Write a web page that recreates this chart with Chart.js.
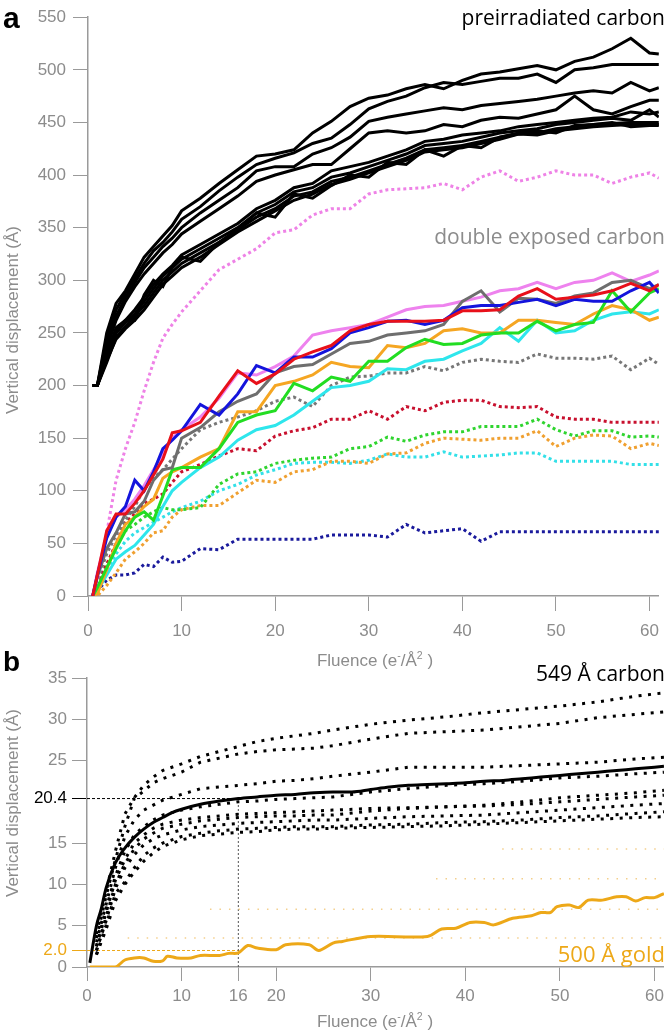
<!DOCTYPE html>
<html>
<head>
<meta charset="utf-8">
<script src="https://cdn.jsdelivr.net/npm/chart.js@4.4.1/dist/chart.umd.min.js"></script>
<style>
  body { margin: 0; background: #fff; }
  #wrap { position: relative; width: 669px; height: 1032px; overflow: hidden; }
  canvas { position: absolute; left: 0; }
  .lbl { position: absolute; white-space: nowrap; line-height: 1; }
  .panel { font-family: "Liberation Sans", Arial, sans-serif; font-weight: bold; color: #000; }
  .note { font-family: "Open Sans", sans-serif; font-size: 21px; right: 4px; }
  .axt { font-family: "Liberation Sans", Arial, sans-serif; font-size: 17px; color: #8c8c8c;
         transform: translate(-50%, -50%); }
  .axt sup { font-size: 0.62em; line-height: 0; }
  .yt { transform: translate(-50%, -50%) rotate(-90deg); }
</style>
</head>
<body>
<div id="wrap">
  <canvas id="chartA" width="669" height="640" style="top:0"></canvas>
  <canvas id="chartB" width="669" height="392" style="top:640px"></canvas>

  <div class="lbl panel" style="left:3px; top:3px; font-size:30px;">a</div>
  <div class="lbl panel" style="left:3px; top:648px; font-size:28px;">b</div>

  <div class="lbl note" style="top:7px; color:#000;">preirradiated carbon</div>
  <div class="lbl note" style="top:226px; color:#8c8c8c;">double exposed carbon</div>
  <div class="lbl note" style="top:663px; color:#000;">549 Å carbon</div>
  <div class="lbl note" style="top:942px; font-size:22px; color:#eda818;">500 Å gold</div>

  <div class="lbl axt yt" style="left:12px; top:320px;">Vertical displacement (Å)</div>
  <div class="lbl axt" style="left:375px; top:660px;">Fluence (e<sup>-</sup>/Å<sup>2</sup> )</div>
  <div class="lbl axt yt" style="left:12px; top:803px;">Vertical displacement (Å)</div>
  <div class="lbl axt" style="left:375px; top:1021px;">Fluence (e<sup>-</sup>/Å<sup>2</sup> )</div>
</div>

<script>
/* ------------------ PANEL A DATA ------------------ */
const fluenceA = [0.5, 1, 2, 3, 4, 5, 6, 7, 8, 9, 10, 12, 14, 16, 18, 20, 22, 24, 26, 28,
                  30, 32, 34, 36, 38, 40, 42, 44, 46, 48, 50, 52, 54, 56, 58, 60, 61];
const xTicksA = [0, 10, 20, 30, 40, 50, 60];
const yTicksA = [0, 50, 100, 150, 200, 250, 300, 350, 400, 450, 500, 550];

// preirradiated carbon, one array per run
const pre1 = [200,200,250,278,290,306,322,332,342,352,366,378,392,405,418,420,424,440,451,465,473,476,482,486,482,490,496,498,501,504,500,508,512,520,530,516,515];
const pre2 = [200,200,245,272,288,302,316,328,336,346,358,370,385,398,410,416,421,430,435,448,463,470,475,483,488,486,489,492,492,496,488,500,502,505,505,505,505];
const pre3 = [200,200,240,266,284,298,312,322,332,340,350,364,376,388,404,408,408,420,426,436,451,455,458,461,464,462,466,468,470,472,475,478,480,478,488,480,483];
const pre4 = [200,200,236,262,280,294,306,316,326,334,344,356,368,380,394,400,405,410,410,425,440,442,440,442,448,446,452,455,454,458,462,475,462,458,465,471,471];
const pre5 = [200,200,228,252,262,272,284,296,306,314,324,334,344,354,368,376,388,392,404,408,412,418,424,432,434,438,440,442,446,448,450,452,454,455,460,458,460];
const pre6 = [200,200,226,250,260,268,280,292,304,312,320,330,340,350,364,372,384,388,398,402,408,414,420,428,430,432,436,440,442,444,448,450,452,454,452,462,455];
const pre7 = [200,200,222,246,256,266,276,288,300,308,316,326,336,348,360,368,380,384,394,398,404,410,416,424,426,428,432,436,439,440,444,446,448,449,450,450,450];
const pre8 = [200,200,224,244,254,262,272,284,296,304,312,322,334,346,356,366,376,382,391,396,402,408,414,422,424,426,430,434,439,438,442,444,446,447,448,448,448];
const pre9 = [200,200,230,255,262,262,286,300,294,312,322,318,336,348,364,360,382,378,390,400,398,412,410,424,418,428,426,436,440,442,440,447,448,450,446,447,447];

// double exposed carbon, solid runs
const dblPink   = [0,22,58,75,82,92,105,120,135,150,158,170,188,212,210,218,228,248,252,255,258,265,272,275,276,280,284,290,292,298,292,298,300,307,299,305,309];
const dblGray   = [0,18,45,60,78,80,90,110,120,122,150,160,175,185,192,212,218,220,230,240,242,248,250,252,258,280,290,270,283,282,278,285,288,298,300,292,296];
const dblBlue   = [0,20,55,75,85,110,100,118,140,148,157,182,172,192,219,212,227,227,235,250,255,261,262,258,262,274,276,276,279,282,276,282,280,280,290,298,288];
const dblRed    = [0,20,62,78,78,88,100,115,130,155,157,165,190,214,202,211,225,232,238,252,258,261,261,261,262,271,271,272,285,292,282,284,286,290,297,290,296];
const dblOrange = [0,2,25,50,68,75,85,92,112,118,122,132,140,175,175,200,204,210,222,218,217,238,236,240,252,254,250,250,262,262,260,258,268,276,272,262,265];
const dblGreen  = [0,8,27,45,62,75,80,72,95,120,122,122,140,165,172,176,202,195,208,204,223,223,236,244,239,240,248,250,250,261,252,258,260,290,270,288,292];
const dblCyan   = [0,5,20,35,42,48,58,68,85,100,108,122,132,148,158,162,172,185,198,200,204,216,215,223,225,233,240,255,242,262,250,252,262,268,270,268,272];

// dotted runs
const dotPink   = [0,15,60,110,140,165,195,222,245,258,270,290,310,320,330,345,348,362,368,368,382,386,387,388,392,386,398,404,394,398,404,400,400,392,398,402,397];
const dotGray   = [0,15,40,58,72,85,102,112,120,130,140,158,165,170,176,185,189,180,200,208,209,212,212,218,214,222,225,223,222,230,226,226,225,228,215,226,220];
const dotRed    = [0,12,30,50,70,78,88,92,97,108,118,125,133,140,138,152,157,160,168,168,176,168,180,176,184,186,186,180,179,180,170,168,168,165,165,165,165];
const dotGreen  = [0,10,30,48,62,68,75,80,84,82,82,84,106,116,118,126,129,131,132,140,142,151,147,153,156,156,161,161,161,168,158,152,157,157,151,152,151];
const dotOrange = [0,0,10,22,35,42,50,60,62,75,82,86,86,98,110,108,118,120,128,128,126,135,136,145,150,149,148,150,150,157,142,150,153,152,140,145,143];
const dotCyan   = [0,8,25,40,52,60,65,70,75,80,84,90,100,106,115,120,126,127,127,126,129,135,132,132,137,132,133,134,136,136,128,128,128,128,125,125,125];
const dotNavy   = [0,5,15,20,20,22,30,28,37,32,33,45,44,54,54,54,54,54,58,58,58,56,68,60,62,64,52,61,61,61,61,61,61,61,61,61,61];

/* ------------------ PANEL B DATA ------------------ */
const fluenceB = [1,2,3,4,5,6,7,8,10,12,14,16,18,20,22,24,26,30,34,38,42,46,50,54,58,61];
const carbon1 = [4,9,14,18.5,20.5,22,23,23.8,24.6,25.5,26.1,26.7,27.3,27.7,28,28.3,28.7,29.4,29.9,30.3,30.8,31.2,31.6,32.1,32.8,33.2];
const carbon2 = [3.5,8.5,13,17,20.4,21.3,22.3,22.8,23.6,24.8,25.3,25.8,26.1,26.3,26.4,26.5,26.8,27.6,28.3,28.5,28.7,29.1,29.5,30.2,30.6,30.9];
const carbon3 = [3,7.5,12,15.8,17.8,19,19.6,20.2,20.9,21.6,21.8,22,22.2,22.5,22.6,22.8,23.1,23.6,24.2,24.2,24.2,24.4,24.6,24.8,25.2,25.4];
const carbon4 = [2.5,7,11,14,16,17,17.8,18.4,19,19.4,19.7,20,20.1,20.3,20.4,20.5,20.6,21.2,21.6,22,22.2,22.5,22.9,23.1,23.4,23.6];
const carbon5 = [2.5,6.5,10.5,13,15,16,16.8,17.3,17.8,18.1,18.3,18.5,18.6,18.7,18.8,18.9,19,19.2,19.3,19.4,19.6,20,20.5,20.8,21.1,21.4];
const carbon6 = [2,6,10,12.5,14.3,15.5,16.2,16.8,17.3,17.7,17.9,18.1,18.2,18.3,18.3,18.4,18.4,18.9,19.2,19.4,19.5,19.7,20,20.3,20.6,20.8];
const carbon7 = [2,5.5,9.5,12,13.6,14.8,15.5,16,16.6,17,17.2,17.4,17.5,17.6,17.7,17.8,17.8,18,18.2,18.3,18.4,18.7,19,19.3,19.6,19.8];
const carbon8 = [1.5,5,8.9,10.3,12,13.5,14.4,15,15.8,16.2,16.5,16.7,16.8,16.9,17,17,17,17.2,17.3,17.5,17.6,17.8,18.1,18.3,18.6,18.8];
const carbon9 = [1.5,4.5,8,10,11.5,12.8,13.8,14.6,15.4,15.9,16.1,16.3,16.4,16.6,16.7,16.7,16.8,16.9,17,17.1,17.3,17.5,17.7,17.9,18.1,18.2];

const fitFluence = [0.3,1,1.5,2,3,4,5,6,7,8,9,10,12,14,16,18,20,22,24,26,28,30,32,34,36,38,40,42,44,46,48,50,52,54,56,58,60,61];
const fitValues  = [0.5,5,7,9.5,12.6,14.4,15.7,16.7,17.5,18.1,18.7,19.1,19.7,20.1,20.4,20.6,20.8,20.9,21.1,21.2,21.2,21.5,21.8,22,22.1,22.2,22.3,22.5,22.6,22.8,23,23.2,23.4,23.6,23.8,24,24.2,24.3];

const goldFluence = [0.3,3,4,5,6,7,8,8.5,9.5,11,12,14,15,16,17,18,20,21,23.5,24.5,26,27,30,36,37.5,39,40.5,42,43,45,47,48,49,49.7,51,52,53,54.5,56,57,58,59,60,61];
const goldValues  = [0,0,0.85,1.1,1.1,0.7,0.75,1.3,1.1,1.1,1.4,1.4,1.65,1.7,2.6,2.3,2.1,2.7,2.7,2.0,2.9,3.1,3.7,3.7,4.6,4.7,5.4,5.4,5.1,5.9,6.2,6.6,6.6,7.3,7.5,7.2,8.1,8.1,8.5,8.5,8.0,8.4,8.4,8.9];

const goldLevels     = [3.5, 7.0, 10.7, 14.3];
const goldLevelStart = [4.3, 13, 36.9, 43.9];

const refFluence = 16;
const fitRef = 20.4;
const goldRef = 2.0;

const xTicksB = [0, 10, 16, 20, 30, 40, 50, 60];
const yTicksB = [0, 2, 5, 10, 15, 20.4, 25, 30, 35];

/* ------------------ HELPERS ------------------ */
const AXIS = '#9a9a9a';
const LABEL = '#8c8c8c';
const GOLD = '#eda818';
const tickFont = { family: 'Liberation Sans', size: 17 };

function pts(xs, ys) {
    return ys.map((y, i) => ({ x: xs[i], y: y }));
}

function solid(xs, ys, color, width) {
    return { data: pts(xs, ys), borderColor: color, borderWidth: width || 3, pointRadius: 0 };
}

function dotted(xs, ys, color, dash, width) {
    return {
        data: pts(xs, ys), borderColor: color, borderWidth: width || 3,
        borderDash: dash || [3, 3], borderCapStyle: 'butt', pointRadius: 0
    };
}

function fixedTicks(list) {
    return scale => { scale.ticks = list.map(v => ({ value: v })); };
}

/* ------------------ 1. PANEL A ------------------ */
const datasetsA = [];
[pre1, pre2, pre3, pre4, pre5, pre6, pre7, pre8, pre9].forEach(run => {
    datasetsA.push(solid(fluenceA, run, '#000'));
});
datasetsA.push(solid(fluenceA, dblRed, '#e8101a'));
datasetsA.push(solid(fluenceA, dblBlue, '#1414dc'));
datasetsA.push(solid(fluenceA, dblGray, '#6e6e6e'));
datasetsA.push(solid(fluenceA, dblPink, '#ee82ee'));
datasetsA.push(solid(fluenceA, dblGreen, '#22dd22'));
datasetsA.push(solid(fluenceA, dblOrange, '#f5a623'));
datasetsA.push(solid(fluenceA, dblCyan, '#2ee6ec'));
datasetsA.push(dotted(fluenceA, dotPink, '#ee82e6'));
datasetsA.push(dotted(fluenceA, dotGray, '#777777'));
datasetsA.push(dotted(fluenceA, dotRed, '#c8102e'));
datasetsA.push(dotted(fluenceA, dotGreen, '#2fd42f'));
datasetsA.push(dotted(fluenceA, dotOrange, '#f0a030'));
datasetsA.push(dotted(fluenceA, dotCyan, '#33e0e8'));
datasetsA.push(dotted(fluenceA, dotNavy, '#1a1a9c'));

new Chart(document.getElementById('chartA').getContext('2d'), {
    type: 'line',
    data: { datasets: datasetsA },
    options: {
        responsive: false,
        animation: false,
        layout: { padding: { top: 16, right: 1, left: 0, bottom: 0 } },
        plugins: { legend: { display: false }, tooltip: { enabled: false } },
        elements: { line: { tension: 0 } },
        scales: {
            x: {
                type: 'linear', min: 0, max: 61,
                afterBuildTicks: fixedTicks(xTicksA),
                afterFit: s => { s.height = 44; },
                grid: { drawOnChartArea: false, tickLength: 15, color: AXIS },
                border: { color: AXIS, width: 1.5 },
                ticks: { font: tickFont, color: LABEL, padding: 10, maxRotation: 0 }
            },
            y: {
                type: 'linear', min: 0, max: 550,
                afterBuildTicks: fixedTicks(yTicksA),
                afterFit: s => { s.width = 88; },
                grid: { drawOnChartArea: false, tickLength: 15, color: AXIS },
                border: { color: AXIS, width: 1.5 },
                ticks: { font: tickFont, color: LABEL, padding: 7 }
            }
        }
    }
});

/* ------------------ 2. PANEL B ------------------ */
const datasetsB = [];
datasetsB.push(solid(goldFluence, goldValues, GOLD, 3));
datasetsB.push(solid(fitFluence, fitValues, '#000', 3));
datasetsB[0].tension = 0.3;
datasetsB[1].cubicInterpolationMode = 'monotone';

[carbon1, carbon2, carbon3, carbon4, carbon5, carbon6, carbon7, carbon8, carbon9].forEach(run => {
    datasetsB.push(dotted(fluenceB, run, '#000', [3, 6.5], 3));
});

goldLevels.forEach((lvl, i) => {
    datasetsB.push(dotted([goldLevelStart[i], 61], [lvl, lvl], '#f4cf8c', [1.5, 8], 1.5));
});

// reference lines at 16 e-/A^2
datasetsB.push(dotted([0, refFluence], [fitRef, fitRef], '#000', [3, 2], 1));
datasetsB.push(dotted([refFluence, refFluence], [0, fitRef], '#555', [2, 2], 1));
datasetsB.push(dotted([0, refFluence], [goldRef, goldRef], GOLD, [3, 2], 1));

const tickTint = ctx => {
    const v = ctx.tick && ctx.tick.value;
    if (v === goldRef) return GOLD;
    if (v === fitRef) return '#000';
    return LABEL;
};

new Chart(document.getElementById('chartB').getContext('2d'), {
    type: 'line',
    data: { datasets: datasetsB },
    options: {
        responsive: false,
        animation: false,
        layout: { padding: { top: 38, right: 4, left: 0, bottom: 0 } },
        plugins: { legend: { display: false }, tooltip: { enabled: false } },
        elements: { line: { tension: 0 } },
        scales: {
            x: {
                type: 'linear', min: 0, max: 61,
                afterBuildTicks: fixedTicks(xTicksB),
                afterFit: s => { s.height = 65; },
                grid: { drawOnChartArea: false, tickLength: 14, color: AXIS },
                border: { color: AXIS, width: 1.5 },
                ticks: { font: tickFont, color: LABEL, padding: 5, maxRotation: 0 }
            },
            y: {
                type: 'linear', min: 0, max: 35,
                afterBuildTicks: fixedTicks(yTicksB),
                afterFit: s => { s.width = 87; },
                grid: {
                    drawOnChartArea: false, tickLength: 15,
                    color: ctx => ctx.tick && ctx.tick.value === fitRef ? '#000' :
                        (ctx.tick && ctx.tick.value === goldRef ? GOLD : AXIS)
                },
                border: { color: AXIS, width: 1.5 },
                ticks: {
                    font: tickFont, color: tickTint, padding: 5,
                    callback: v => (v === goldRef ? '2.0' : String(v))
                }
            }
        }
    }
});
</script>
</body>
</html>
